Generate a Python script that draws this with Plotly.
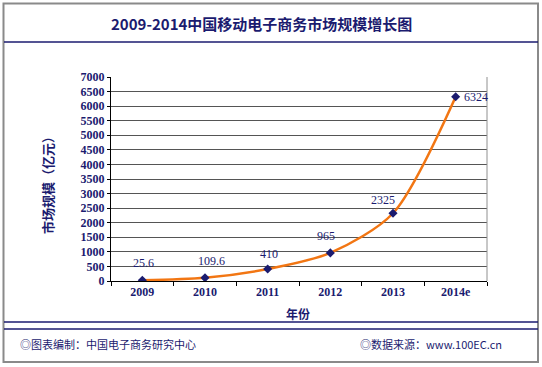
import plotly.graph_objects as go

years = ["2009", "2010", "2011", "2012", "2013", "2014e"]
values = [25.6, 109.6, 410, 965, 2325, 6324]
value_labels = ["25.6", "109.6", "410", "965", "2325", "6324"]
y_ticks = list(range(0, 7001, 500))

W, H = 542, 367
L, R, T, B = 111, 487, 77, 281

def px(x):
    return (x - L) / (R - L)

def py(y):
    return (B - y) / (B - T)

NAVY = "#1b1b6f"
ORANGE = "#f27613"

fig = go.Figure()
fig.add_trace(go.Scatter(
    x=years, y=values, mode="lines+markers",
    line=dict(color=ORANGE, width=2.5, shape="spline", smoothing=0.8),
    marker=dict(symbol="diamond", size=7, color=NAVY),
    showlegend=False, hoverinfo="skip",
))

offsets = [(1, 17), (6, 17), (1, 15), (-4, 17), (-10, 13), (None, 0)]
annotations = []
for i, (v, lab, (dx, dy)) in enumerate(zip(values, value_labels, offsets)):
    if dx is None:
        annotations.append(dict(x=i, y=v, xref="x", yref="y", text=lab, showarrow=False,
                                xanchor="left", yanchor="middle", xshift=6, yshift=dy,
                                font=dict(family="Liberation Serif", size=12, color=NAVY)))
    else:
        annotations.append(dict(x=i, y=v, xref="x", yref="y", text=lab, showarrow=False,
                                xanchor="center", yanchor="middle", xshift=dx, yshift=dy,
                                font=dict(family="Liberation Serif", size=12, color=NAVY)))

annotations += [
    dict(x=px(261), y=py(23), xref="paper", yref="paper", text="<b>2009-2014中国移动电子商务市场规模增长图</b>",
         xanchor="center", yanchor="middle",
         showarrow=False, font=dict(family="Noto Sans CJK SC", size=15, color=NAVY)),
    dict(x=px(47), y=py(182), xref="paper", yref="paper", text="<b>市场规模（亿元）</b>", textangle=-90,
         xanchor="center", yanchor="middle",
         showarrow=False, font=dict(family="Noto Sans CJK SC", size=13, color=NAVY)),
    dict(x=px(298), y=py(313), xref="paper", yref="paper", text="<b>年份</b>",
         xanchor="center", yanchor="middle",
         showarrow=False, font=dict(family="Noto Sans CJK SC", size=12, color=NAVY)),
    dict(x=px(18), y=py(344), xref="paper", yref="paper", text="◎图表编制：中国电子商务研究中心",
         xanchor="left", yanchor="middle", showarrow=False,
         font=dict(family="Noto Sans CJK SC", size=11, color=NAVY)),
    dict(x=px(358), y=py(344), xref="paper", yref="paper", text="◎数据来源：www.100EC.cn",
         xanchor="left", yanchor="middle", showarrow=False,
         font=dict(family="Noto Sans CJK SC", size=11, color=NAVY)),
]

shapes = [
    dict(type="rect", xref="paper", yref="paper", x0=px(3.5), x1=px(538), y0=py(3.5), y1=py(362),
         line=dict(color="#8a8a8a", width=2), layer="below"),
    dict(type="line", xref="paper", yref="paper", x0=px(4), x1=px(538), y0=py(42), y1=py(42),
         line=dict(color=NAVY, width=1.3)),
    dict(type="line", xref="paper", yref="paper", x0=px(4), x1=px(538), y0=py(322), y1=py(322),
         line=dict(color=NAVY, width=1.3)),
    dict(type="line", xref="paper", yref="paper", x0=px(4), x1=px(538), y0=py(329), y1=py(329),
         line=dict(color=NAVY, width=1.3)),
    dict(type="line", xref="paper", yref="paper", x0=1, x1=1, y0=0, y1=1,
         line=dict(color="#909090", width=1)),
]

fig.update_layout(
    width=W, height=H,
    margin=dict(l=L, r=W - R, t=T, b=H - B, pad=0),
    paper_bgcolor="white", plot_bgcolor="white",
    annotations=annotations, shapes=shapes,
    xaxis=dict(type="category", categoryorder="array", categoryarray=years,
               tickvals=years, ticktext=["<b>%s</b>" % y for y in years],
               range=[-0.5, 5.5], showline=True, linecolor="black", linewidth=1,
               ticks="outside", tickson="boundaries", ticklen=4, tickcolor="black",
               showgrid=False, zeroline=False,
               tickfont=dict(family="Liberation Serif", size=12, color=NAVY)),
    yaxis=dict(range=[0, 7000], tickvals=y_ticks, ticktext=["<b>%d</b>" % v for v in y_ticks],
               showline=True, linecolor="black", linewidth=1, ticks="outside", ticklen=3,
               tickcolor="black", showgrid=True, gridcolor="#555555", gridwidth=1,
               zeroline=False, tickfont=dict(family="Liberation Serif", size=12, color=NAVY)),
    font=dict(family="Liberation Serif", color=NAVY),
)

fig.write_html("out.html", config={"displayModeBar": False},
               post_script="document.body.style.margin='0';")
